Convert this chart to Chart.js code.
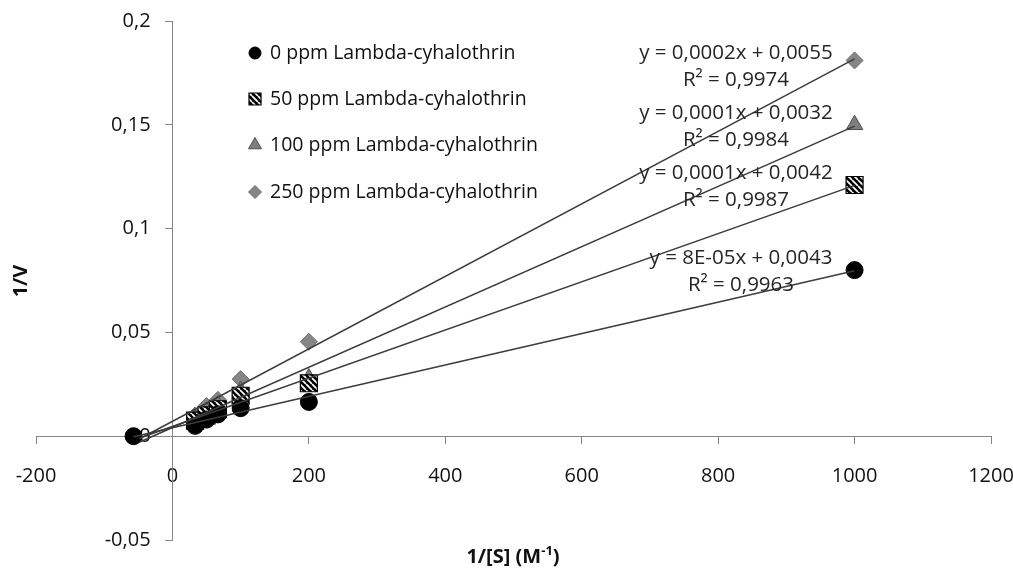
<!DOCTYPE html>
<html>
<head>
<meta charset="utf-8">
<script src="https://cdn.jsdelivr.net/npm/chart.js@4.4.1/dist/chart.umd.min.js"></script>
<style>
  html, body { margin: 0; padding: 0; background: #fff; }
  #wrap { width: 1013px; height: 568px; position: relative; }
</style>
</head>
<body>
<div id="wrap"><canvas id="lwChart"></canvas></div>
<script>
// Lineweaver-Burk data
const SERIES_NAMES = [
  '0 ppm Lambda-cyhalothrin',
  '50 ppm Lambda-cyhalothrin',
  '100 ppm Lambda-cyhalothrin',
  '250 ppm Lambda-cyhalothrin'
];
const X_0PPM = [-57, 33.3, 50, 66.7, 100, 200, 1000];
const X_50PPM = [33.3, 50, 66.7, 100, 200, 1000];
const X_100PPM = [33.3, 50, 66.7, 100, 200, 1000];
const X_250PPM = [33.3, 50, 66.7, 100, 200, 1000];
const Y_0PPM = [0, 0.005, 0.008, 0.0105, 0.0135, 0.0165, 0.080];
const Y_50PPM = [0.0075, 0.010, 0.013, 0.0195, 0.0255, 0.121];
const Y_100PPM = [0.0085, 0.012, 0.015, 0.022, 0.028, 0.150];
const Y_250PPM = [0.010, 0.0145, 0.0175, 0.0275, 0.0455, 0.181];
const EQUATIONS = ['y = 8E-05x + 0,0043', 'y = 0,0001x + 0,0042', 'y = 0,0001x + 0,0032', 'y = 0,0002x + 0,0055'];
const R_SQUARED = ['R² = 0,9963', 'R² = 0,9987', 'R² = 0,9984', 'R² = 0,9974'];
// trendlines are forecast backward to this x
const TREND_START = -48;
const X_MIN = -200, X_MAX = 1200, X_STEP = 200;
const Y_MIN = -0.05, Y_MAX = 0.2, Y_STEP = 0.05;
const X_TITLE = '1/[S] (M';
const X_TITLE_SUP = '-1';
const Y_TITLE = '1/V';

const FONT = "'Open Sans', 'DejaVu Sans', sans-serif";
const AXIS_GRAY = '#868686';
const TEXT_COLOR = '#111';

function makeHatch() {
  const c = document.createElement('canvas');
  c.width = 6; c.height = 6;
  const g = c.getContext('2d');
  g.fillStyle = '#000';
  g.fillRect(0, 0, 6, 6);
  g.strokeStyle = '#fff';
  g.lineWidth = 1.7;
  g.beginPath();
  for (let k = -6; k <= 6; k += 6) {
    g.moveTo(k, 0);
    g.lineTo(k + 6, 6);
  }
  g.stroke();
  return g.createPattern(c, 'repeat');
}
const HATCH = makeHatch();

const MARKERS = [
  { style: 'circle', radius: 8.5, fill: '#000', stroke: '#000', width: 1, legendR: 6 },
  { style: 'rect', radius: 12, fill: HATCH, stroke: '#000', width: 1.2, legendR: 8.5 },
  { style: 'triangle', radius: 9.5, fill: '#7f7f7f', stroke: '#4d4d4d', width: 1, legendR: 7.5 },
  { style: 'rectRot', radius: 8.5, fill: '#868686', stroke: '#707070', width: 1, legendR: 6.5 }
];

// least squares trendline, from the backward forecast to the last x
function fitLine(xs, ys) {
  const n = xs.length;
  const mx = xs.reduce((s, v) => s + v, 0) / n;
  const my = ys.reduce((s, v) => s + v, 0) / n;
  let sxy = 0, sxx = 0;
  for (let i = 0; i < n; i++) {
    sxy += (xs[i] - mx) * (ys[i] - my);
    sxx += (xs[i] - mx) * (xs[i] - mx);
  }
  const slope = sxy / sxx;
  const icpt = my - slope * mx;
  const x0 = Math.min(TREND_START, ...xs), x1 = Math.max(...xs);
  return [{ x: x0, y: icpt + slope * x0 }, { x: x1, y: icpt + slope * x1 }];
}

function toPoints(xs, ys) {
  return xs.map((x, i) => ({ x: x, y: ys[i] }));
}

const seriesX = [X_0PPM, X_50PPM, X_100PPM, X_250PPM];
const seriesY = [Y_0PPM, Y_50PPM, Y_100PPM, Y_250PPM];

const datasets = [];
seriesX.forEach((xs, i) => {
  datasets.push({
    label: 'trend ' + i,
    data: fitLine(xs, seriesY[i]),
    showLine: true,
    borderColor: '#3c3c3c',
    borderWidth: 1.5,
    pointRadius: 0,
    order: 0
  });
});
seriesX.forEach((xs, i) => {
  const m = MARKERS[i];
  datasets.push({
    label: SERIES_NAMES[i],
    data: toPoints(xs, seriesY[i]),
    showLine: false,
    pointStyle: m.style,
    pointRadius: m.radius,
    pointBackgroundColor: m.fill,
    pointBorderColor: m.stroke,
    pointBorderWidth: m.width,
    order: 1
  });
});

function fmtNum(v) {
  const r = Math.round(v * 10000) / 10000;
  return String(r).replace('.', ',');
}

function drawMarker(ctx, m, x, y, r) {
  ctx.save();
  ctx.fillStyle = m.fill;
  ctx.strokeStyle = m.stroke;
  ctx.lineWidth = m.width;
  ctx.beginPath();
  if (m.style === 'circle') {
    ctx.arc(x, y, r, 0, Math.PI * 2);
  } else if (m.style === 'rect') {
    const s = r * Math.SQRT1_2;
    ctx.rect(x - s, y - s, 2 * s, 2 * s);
  } else if (m.style === 'triangle') {
    ctx.moveTo(x, y - r);
    ctx.lineTo(x + r * Math.sin(2 * Math.PI / 3), y + r / 2);
    ctx.lineTo(x - r * Math.sin(2 * Math.PI / 3), y + r / 2);
    ctx.closePath();
  } else {
    ctx.moveTo(x, y - r);
    ctx.lineTo(x + r, y);
    ctx.lineTo(x, y + r);
    ctx.lineTo(x - r, y);
    ctx.closePath();
  }
  ctx.fill();
  ctx.stroke();
  ctx.restore();
}

// axes sit inside the plot, so they take no room and no label padding
function noRoom(s) {
  if (s.isHorizontal()) s.height = 0; else s.width = 0;
  s.paddingLeft = 0; s.paddingRight = 0; s.paddingTop = 0; s.paddingBottom = 0;
}

// legend rows, equation labels and axis titles
const LEGEND_X = 255, LEGEND_TEXT_X = 270;
const LEGEND_ROWS = [53, 99, 145, 192];
const EQ_POS = [[741, 258], [736, 173], [736, 113], [736, 53]];
const EQ_GAP = 27;

const textPlugin = {
  id: 'textPlugin',
  afterDraw(chart) {
    const ctx = chart.ctx;
    ctx.save();
    ctx.textBaseline = 'middle';
    ctx.font = '19.5px ' + FONT;
    SERIES_NAMES.forEach((name, i) => {
      drawMarker(ctx, MARKERS[i], LEGEND_X, LEGEND_ROWS[i], MARKERS[i].legendR);
      ctx.fillStyle = TEXT_COLOR;
      ctx.textAlign = 'left';
      ctx.fillText(name, LEGEND_TEXT_X, LEGEND_ROWS[i]);
    });
    ctx.font = '20.5px ' + FONT;
    ctx.fillStyle = '#262626';
    ctx.textAlign = 'center';
    EQUATIONS.forEach((eq, i) => {
      ctx.fillText(eq, EQ_POS[i][0], EQ_POS[i][1]);
      ctx.fillText(R_SQUARED[i], EQ_POS[i][0], EQ_POS[i][1] + EQ_GAP);
    });
    // axis titles
    ctx.fillStyle = TEXT_COLOR;
    ctx.font = 'bold 20px ' + FONT;
    const mainW = ctx.measureText(X_TITLE).width;
    ctx.font = 'bold 13px ' + FONT;
    const supW = ctx.measureText(X_TITLE_SUP).width;
    ctx.font = 'bold 20px ' + FONT;
    const closeW = ctx.measureText(')').width;
    let tx = 513 - (mainW + supW + closeW) / 2;
    const ty = 557;
    ctx.textAlign = 'left';
    ctx.fillText(X_TITLE, tx, ty);
    tx += mainW;
    ctx.font = 'bold 13px ' + FONT;
    ctx.fillText(X_TITLE_SUP, tx, ty - 6);
    tx += supW;
    ctx.font = 'bold 20px ' + FONT;
    ctx.fillText(')', tx, ty);
    ctx.translate(21, 281);
    ctx.rotate(-Math.PI / 2);
    ctx.textAlign = 'center';
    ctx.fillText(Y_TITLE, 0, 0);
    ctx.restore();
  }
};

new Chart(document.getElementById('lwChart'), {
  type: 'scatter',
  data: { datasets },
  options: {
    responsive: true,
    maintainAspectRatio: false,
    animation: false,
    layout: { padding: { left: 36, right: 22, top: 21, bottom: 28 } },
    plugins: {
      legend: { display: false },
      tooltip: { enabled: false }
    },
    scales: {
      x: {
        type: 'linear',
        min: X_MIN,
        max: X_MAX,
        position: { y: 0 },
        afterFit: noRoom,
        border: { display: true, color: AXIS_GRAY, width: 1 },
        grid: { drawOnChartArea: false, drawTicks: true, tickLength: 7, tickColor: AXIS_GRAY, tickWidth: 1 },
        ticks: {
          stepSize: X_STEP,
          padding: 21,
          color: TEXT_COLOR,
          font: { family: FONT, size: 20 },
          callback: v => String(v)
        }
      },
      y: {
        type: 'linear',
        min: Y_MIN,
        max: Y_MAX,
        position: { x: 0 },
        afterFit: noRoom,
        border: { display: true, color: AXIS_GRAY, width: 1 },
        grid: { drawOnChartArea: false, drawTicks: true, tickLength: 7, tickColor: AXIS_GRAY, tickWidth: 1 },
        ticks: { stepSize: Y_STEP, display: false }
      },
      yLabels: {
        type: 'linear',
        axis: 'y',
        min: Y_MIN,
        max: Y_MAX,
        position: { x: -32 },
        afterFit: noRoom,
        border: { display: false },
        grid: { display: false },
        ticks: {
          stepSize: Y_STEP,
          color: TEXT_COLOR,
          font: { family: FONT, size: 20 },
          callback: v => fmtNum(v)
        }
      }
    }
  },
  plugins: [textPlugin]
});
</script>
</body>
</html>
